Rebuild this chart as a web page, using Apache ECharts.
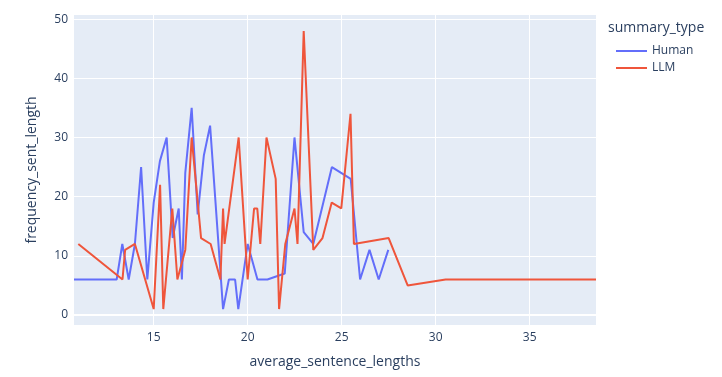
<!DOCTYPE html>
<html>
<head>
<meta charset="utf-8">
<script src="https://cdn.jsdelivr.net/npm/echarts@6/dist/echarts.min.js"></script>
<style>html,body{margin:0;padding:0;background:#fff}#c{width:722px;height:377px}</style>
</head>
<body>
<div id="c"></div>
<script>
const humanX = [10.76, 13.03, 13.33, 13.67, 14.0, 14.33, 14.66, 15.0, 15.33, 15.69, 16.01, 16.33, 16.5, 16.68, 17.02, 17.34, 17.67, 18.0, 18.69, 19.0, 19.33, 19.5, 20.0, 20.52, 21.05, 21.97, 22.49, 22.98, 23.49, 24.48, 25.48, 25.98, 26.48, 26.97, 27.48];
const humanY = [6, 6, 12, 6, 12, 25, 6, 19, 26, 30, 13, 18, 6, 24, 35, 17, 27, 32, 1, 6, 6, 1, 12, 6, 6, 7, 30, 14, 12, 25, 23, 6, 11, 6, 11];
const llmX = [10.99, 13.34, 13.48, 14.0, 15.0, 15.34, 15.51, 15.99, 16.26, 16.68, 17.02, 17.52, 18.03, 18.55, 18.69, 18.77, 19.52, 20.0, 20.34, 20.51, 20.67, 21.0, 21.49, 21.67, 22.0, 22.49, 22.65, 22.98, 23.49, 23.98, 24.47, 24.98, 25.47, 25.65, 27.5, 28.51, 30.53, 38.53];
const llmY = [12, 6, 11, 12, 1, 22, 1, 18, 6, 11, 30, 13, 12, 6, 18, 12, 30, 6, 18, 18, 12, 30, 23, 1, 12, 18, 12, 48, 11, 13, 19, 18, 34, 12, 13, 5, 6, 6];
const xTicks = [15, 20, 25, 30, 35];
const yTicks = [0, 10, 20, 30, 40, 50];
const seriesNames = ['Human', 'LLM'];

const FONT = '"Open Sans", verdana, arial, sans-serif';
const TXT = '#2a3f5f';
const chart = echarts.init(document.getElementById('c'), null, {renderer: 'canvas'});
const pair = (xs, ys) => xs.map((x, i) => [x, ys[i]]);
chart.setOption({
  animation: false,
  textStyle: {fontFamily: FONT},
  grid: {left: 74, right: 126, top: 15, bottom: 52, show: true, backgroundColor: '#E5ECF6', borderWidth: 0},
  xAxis: {
    type: 'value', min: 10.76, max: 38.53,
    name: 'average_sentence_lengths', nameLocation: 'middle', nameGap: 30,
    nameTextStyle: {fontSize: 14, color: TXT, fontFamily: FONT},
    axisLine: {show: false}, axisTick: {show: false, customValues: xTicks},
    axisLabel: {customValues: xTicks, color: TXT, fontSize: 12, margin: 7, fontFamily: FONT},
    splitLine: {show: true, lineStyle: {color: '#fff', width: 1}}
  },
  yAxis: {
    type: 'value', min: -1.69, max: 50.69,
    name: 'frequency_sent_length', nameLocation: 'middle', nameGap: 35,
    nameTextStyle: {fontSize: 14, color: TXT, fontFamily: FONT},
    axisLine: {show: false}, axisTick: {show: false, customValues: yTicks},
    axisLabel: {customValues: yTicks, color: TXT, fontSize: 12, margin: 6, fontFamily: FONT},
    splitLine: {show: true, lineStyle: {color: '#fff', width: 1}}
  },
  legend: {
    orient: 'vertical', left: 611, top: 40, itemWidth: 31, itemHeight: 2, itemGap: 5,
    icon: 'rect', data: seriesNames,
    textStyle: {color: TXT, fontSize: 12, fontFamily: FONT}
  },
  graphic: [{
    type: 'text', left: 608, top: 21,
    style: {text: 'summary_type', fill: TXT, font: '14px ' + FONT}
  }],
  series: [
    {name: seriesNames[0], type: 'line', data: pair(humanX, humanY), showSymbol: false, symbol: 'none',
     lineStyle: {color: '#636EFA', width: 2}, itemStyle: {color: '#636EFA'},
     markLine: {silent: true, symbol: 'none', label: {show: false}, lineStyle: {color: '#fff', width: 2, type: 'solid'}, data: [{yAxis: 0}], z: 1}},
    {name: seriesNames[1], type: 'line', data: pair(llmX, llmY), showSymbol: false, symbol: 'none',
     lineStyle: {color: '#EF553B', width: 2}, itemStyle: {color: '#EF553B'}}
  ]
});
</script>
</body>
</html>
